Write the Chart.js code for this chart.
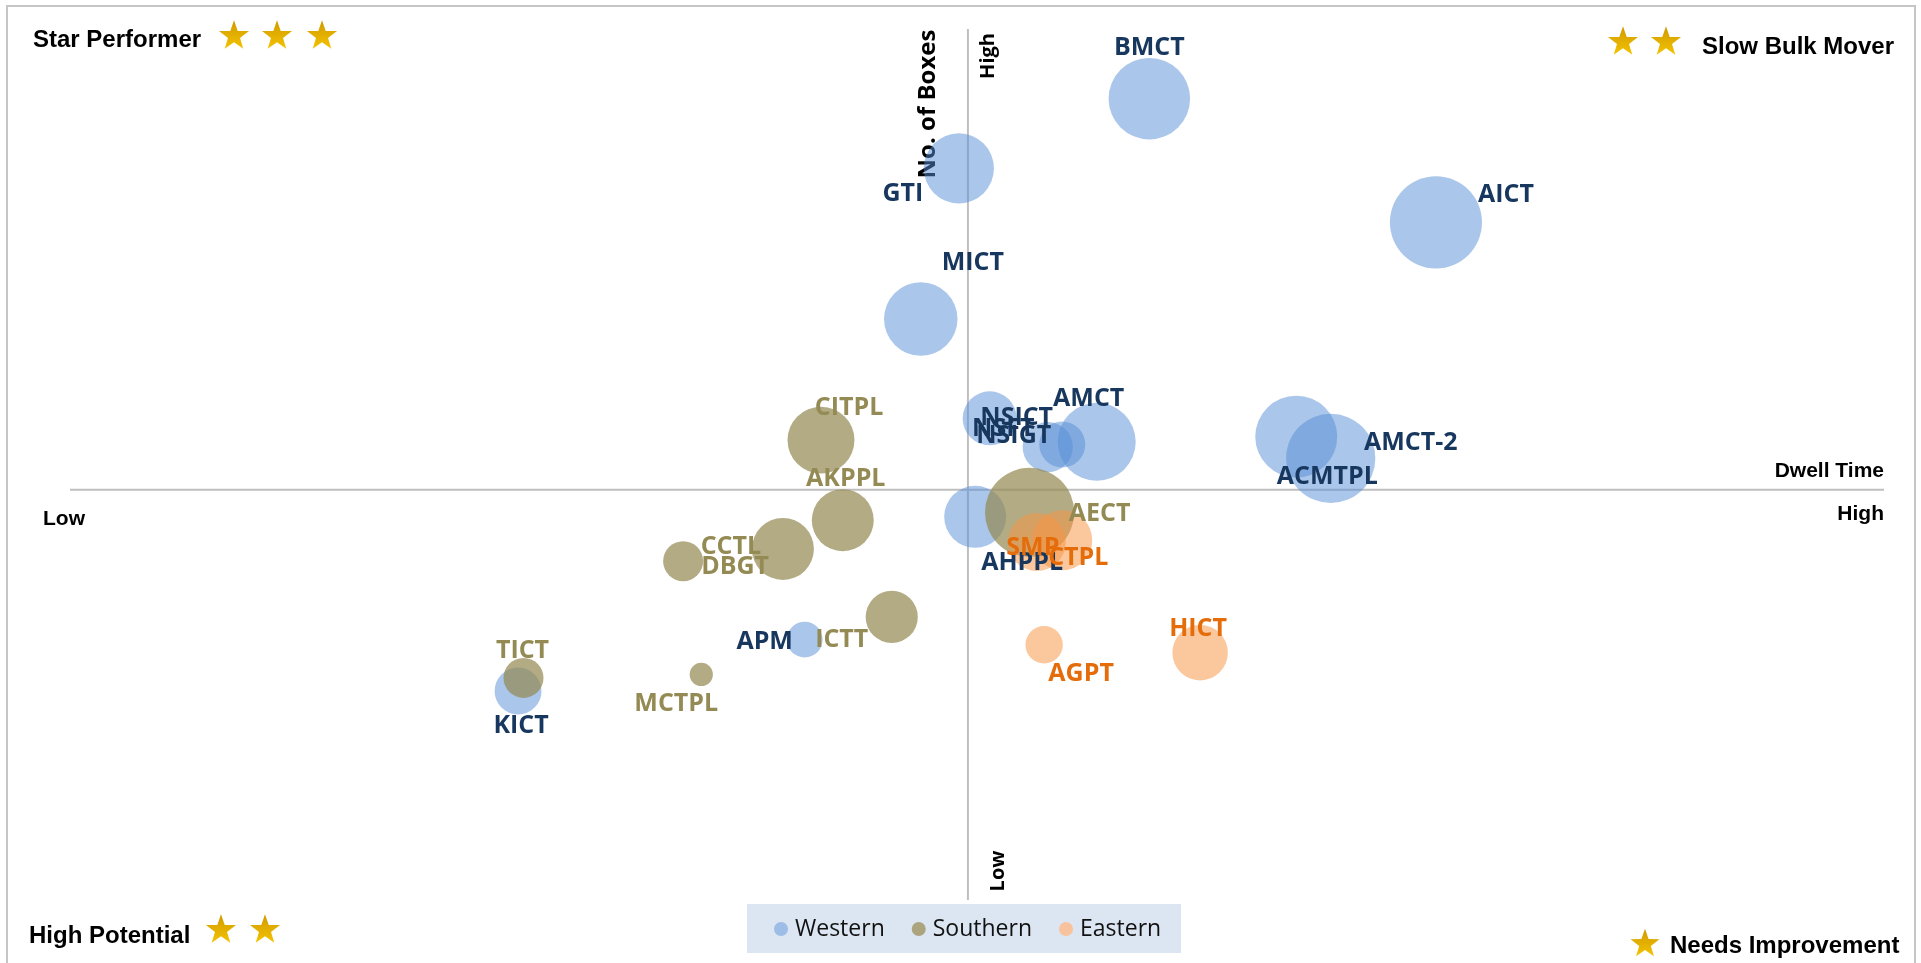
<!DOCTYPE html>
<html>
<head>
<meta charset="utf-8">
<title>Container terminal matrix</title>
<script src="https://cdn.jsdelivr.net/npm/chart.js@4.4.1/dist/chart.umd.min.js"></script>
<style>
  html, body { margin: 0; padding: 0; background: #fff; overflow: hidden; }
  canvas { display: block; }
</style>
</head>
<body>
<canvas id="matrix" width="1921" height="963"></canvas>
<script>
// dwell time (x) and no. of boxes (y) on a relative 0-100 scale, volume drives bubble size
const westNames  = ['BMCT', 'GTI', 'AICT', 'MICT', 'NSICT', 'NSIGT', 'NSFT', 'AMCT', 'ACMTPL', 'AMCT-2', 'AHPPL', 'APM', 'KICT'];
const westDwell  = [59.5, 49.0, 75.3, 46.9, 50.7, 53.9, 54.7, 56.6, 67.6, 69.5, 49.9, 40.5, 24.7];
const westBoxes  = [92.0, 84.0, 77.8, 66.7, 55.3, 52.0, 52.3, 52.6, 53.2, 50.7, 44.0, 29.9, 24.0];
const westVolume = [16.6, 12.3, 21.2, 13.5, 7.3, 6.3, 5.3, 15.2, 16.8, 19.9, 9.6, 3.2, 5.5];

const southNames  = ['CITPL', 'AKPPL', 'CCTL', 'DBGT', 'ICTT', 'AECT', 'TICT', 'MCTPL'];
const southDwell  = [41.4, 42.6, 39.3, 33.8, 45.3, 52.9, 25.0, 34.8];
const southBoxes  = [52.8, 43.6, 40.3, 38.9, 32.5, 44.5, 25.5, 25.9];
const southVolume = [11.2, 9.6, 9.6, 4.0, 6.8, 19.9, 4.0, 1.35];

const eastNames  = ['SMP', 'CTPL', 'AGPT', 'HICT'];
const eastDwell  = [53.3, 54.7, 53.7, 62.3];
const eastBoxes  = [41.1, 41.3, 29.3, 28.4];
const eastVolume = [8.4, 9.0, 3.5, 7.7];

// where the quadrant lines cross
const dwellMid = 49.5;
const boxesMid = 47.1;

// label placement relative to bubble centre (px)
const labelOffset = {
  'BMCT': [0, -55], 'GTI': [-56, 22], 'AICT': [70, -31], 'MICT': [52, -60],
  'NSICT': [27, -4], 'NSIGT': [-34, -15], 'NSFT': [-59, -20], 'AMCT': [-8, -47],
  'ACMTPL': [31, 36], 'AMCT-2': [80, -20], 'AHPPL': [47, 42], 'APM': [-40, -2], 'KICT': [3, 31],
  'CITPL': [28, -36], 'AKPPL': [3, -45], 'CCTL': [-52, -6], 'DBGT': [52, 2],
  'ICTT': [-50, 19], 'AECT': [70, -3], 'TICT': [-1, -31], 'MCTPL': [-25, 25],
  'SMP': [-4, 2], 'CTPL': [16, 14], 'AGPT': [37, 25], 'HICT': [-2, -28]
};

function toBubbles(dwell, boxes, volume) {
  return dwell.map((d, i) => ({ x: d, y: boxes[i], r: 10 * Math.sqrt(volume[i]) }));
}

function star(ctx, cx, cy, R) {
  const r = R * 0.4;
  ctx.beginPath();
  for (let i = 0; i < 10; i++) {
    const a = -Math.PI / 2 + i * Math.PI / 5;
    const rad = i % 2 ? r : R;
    ctx.lineTo(cx + rad * Math.cos(a), cy + rad * Math.sin(a));
  }
  ctx.closePath();
  const g = ctx.createLinearGradient(0, cy - R, 0, cy + R);
  g.addColorStop(0, '#cf9a00');
  g.addColorStop(1, '#f8c700');
  ctx.fillStyle = g;
  ctx.fill();
}

const quadrants = {
  id: 'quadrants',
  beforeDraw(chart) {
    const ctx = chart.ctx;
    ctx.save();
    ctx.strokeStyle = '#c6c6c6';
    ctx.lineWidth = 2;
    ctx.strokeRect(7, 6, 1908, 980);
    ctx.restore();
  },
  beforeDatasetsDraw(chart) {
    const ctx = chart.ctx;
    const area = chart.chartArea;
    const x0 = chart.scales.x.getPixelForValue(dwellMid);
    const y0 = chart.scales.y.getPixelForValue(boxesMid);
    ctx.save();
    ctx.strokeStyle = '#bfbfbf';
    ctx.lineWidth = 2;
    ctx.beginPath();
    ctx.moveTo(area.left, y0); ctx.lineTo(area.right, y0);
    ctx.moveTo(x0, area.top); ctx.lineTo(x0, area.bottom);
    ctx.stroke();

    // axis captions
    ctx.fillStyle = '#000';
    ctx.font = 'bold 21px "Liberation Sans", Arial, sans-serif';
    ctx.textBaseline = 'alphabetic';
    ctx.textAlign = 'right';
    ctx.fillText('Dwell Time', area.right, y0 - 13);
    ctx.fillText('High', area.right, y0 + 30);
    ctx.textAlign = 'left';
    ctx.fillText('Low', 43, y0 + 35);

    ctx.textAlign = 'center';
    ctx.textBaseline = 'middle';
    ctx.font = 'bold 24px "Open Sans", sans-serif';
    ctx.save(); ctx.translate(x0 - 40, 104); ctx.rotate(-Math.PI / 2);
    ctx.fillText('No. of Boxes', 0, 0); ctx.restore();
    ctx.font = 'bold 20px "Open Sans", sans-serif';
    ctx.save(); ctx.translate(x0 + 20, 56); ctx.rotate(-Math.PI / 2);
    ctx.fillText('High', 0, 0); ctx.restore();
    ctx.save(); ctx.translate(x0 + 30, 871); ctx.rotate(-Math.PI / 2);
    ctx.fillText('Low', 0, 0); ctx.restore();

    // quadrant names
    ctx.font = 'bold 24px "Liberation Sans", Arial, sans-serif';
    ctx.textBaseline = 'alphabetic';
    ctx.textAlign = 'left';
    ctx.fillText('Star Performer', 33, 47);
    ctx.fillText('High Potential', 29, 943);
    ctx.fillText('Needs Improvement', 1670, 953);
    ctx.textAlign = 'right';
    ctx.fillText('Slow Bulk Mover', 1894, 54);
    [234, 277, 322].forEach(x => star(ctx, x, 36, 15.8));
    [1623, 1666].forEach(x => star(ctx, x, 42, 15.8));
    [221, 265].forEach(x => star(ctx, x, 930, 15.8));
    star(ctx, 1645, 944, 15.2);

    // legend
    ctx.fillStyle = '#dce6f2';
    ctx.fillRect(747, 904, 434, 49);
    ctx.font = '23px "Open Sans", sans-serif';
    ctx.textAlign = 'left';
    ctx.textBaseline = 'middle';
    let lx = 774;
    chart.data.datasets.forEach(ds => {
      ctx.fillStyle = ds.legendColor;
      ctx.beginPath();
      ctx.arc(lx + 7, 929, 7, 0, Math.PI * 2);
      ctx.fill();
      ctx.fillStyle = '#111';
      ctx.fillText(ds.label, lx + 21, 929);
      lx += 21 + ctx.measureText(ds.label).width + 27;
    });
    ctx.restore();
  },
  afterDatasetsDraw(chart) {
    const ctx = chart.ctx;
    ctx.save();
    ctx.font = 'bold 25px "Open Sans", sans-serif';
    ctx.textAlign = 'center';
    ctx.textBaseline = 'middle';
    chart.data.datasets.forEach((ds, di) => {
      const meta = chart.getDatasetMeta(di);
      ctx.fillStyle = ds.labelColor;
      meta.data.forEach((pt, i) => {
        const name = ds.names[i];
        const off = labelOffset[name] || [0, 0];
        ctx.fillText(name, pt.x + off[0], pt.y + off[1] + 4);
      });
    });
    ctx.restore();
  }
};

new Chart(document.getElementById('matrix'), {
  type: 'bubble',
  data: {
    datasets: [
      {
        label: 'Western',
        names: westNames,
        data: toBubbles(westDwell, westBoxes, westVolume),
        backgroundColor: 'rgba(85,142,213,0.5)',
        legendColor: '#9dbce6',
        labelColor: '#17375e',
        borderWidth: 0,
        order: 2
      },
      {
        label: 'Southern',
        names: southNames,
        data: toBubbles(southDwell, southBoxes, southVolume),
        backgroundColor: 'rgba(148,138,84,0.72)',
        legendColor: '#aba47f',
        labelColor: '#948a54',
        borderWidth: 0,
        order: 1
      },
      {
        label: 'Eastern',
        names: eastNames,
        data: toBubbles(eastDwell, eastBoxes, eastVolume),
        backgroundColor: 'rgba(247,150,70,0.53)',
        legendColor: '#f8c39c',
        labelColor: '#e46c0a',
        borderWidth: 0,
        order: 0
      }
    ]
  },
  options: {
    responsive: false,
    animation: false,
    devicePixelRatio: 1,
    layout: { autoPadding: false, padding: { left: 70, right: 37, top: 29, bottom: 63 } },
    scales: {
      x: { type: 'linear', min: 0, max: 100, display: false },
      y: { type: 'linear', min: 0, max: 100, display: false }
    },
    plugins: {
      legend: { display: false },
      tooltip: { enabled: false }
    }
  },
  plugins: [quadrants]
});
</script>
</body>
</html>
